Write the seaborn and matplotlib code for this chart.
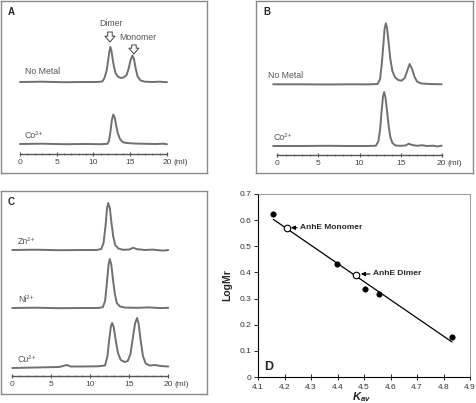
import numpy as np
import pandas as pd
import seaborn as sns
import matplotlib.pyplot as plt
from matplotlib.ticker import MultipleLocator

# ---- data (elution volume in ml, signal in arbitrary units) ----
# Panel A
a_nometal_ml = [0, 3, 6, 9, 10.5, 11.2, 11.5, 11.8, 12.0, 12.15, 12.3, 12.45, 12.6, 12.8, 13.0, 13.3, 13.7,
                14.1, 14.5, 14.8, 15.05, 15.3, 15.5, 15.75, 16.0, 16.4, 17, 18, 19, 20]
a_nometal_sig = [72, 72.3, 71.8, 72, 72, 72.5, 76, 84, 94, 102, 107, 103, 95, 87, 81, 77.5, 76,
                 76.5, 79, 86, 94, 98.5, 95, 85, 77.5, 73.5, 72.3, 72, 72.3, 71.8]
a_co_ml = [0, 3, 6, 9, 11, 11.9, 12.1, 12.3, 12.5, 12.7, 12.9, 13.1, 13.3, 13.6, 14.0, 14.5, 15.5, 17, 18.5, 19.5, 20]
a_co_sig = [10, 10.3, 9.8, 10, 9.8, 10.2, 13, 22, 34, 39.5, 36, 28, 21, 15, 11.8, 11, 10.5, 10.2, 10, 10.3, 9.8]

# Panel B
b_nometal_ml = [-0.5, 3, 6, 9, 11, 12.2, 12.5, 12.7, 12.9, 13.05, 13.2, 13.35, 13.55, 13.75, 14.0, 14.3, 14.7,
                15.1, 15.5, 15.8, 16.1, 16.4, 16.7, 17.0, 17.5, 18.5, 19.5, 20]
b_nometal_sig = [70.7, 70.7, 70.5, 70.7, 70.6, 71, 76, 90, 110, 126, 131.7, 127, 112, 96, 84, 78, 75,
                 74.3, 77, 84, 91, 86, 78, 73.5, 71.5, 71, 70.8, 70.7]
b_co_ml = [-0.5, 3, 6, 9, 11, 12.0, 12.3, 12.5, 12.7, 12.85, 13.0, 13.15, 13.35, 13.55, 13.75, 14.0, 14.4,
           15, 15.6, 16.0, 16.4, 17, 17.6, 18.2, 19, 19.5, 20]
b_co_sig = [9, 9, 9.2, 9, 9, 9.3, 14, 25, 45, 58, 63, 58, 44, 29, 18, 12, 9.5,
            9.2, 9.5, 11.3, 10, 9.2, 9.8, 9, 9.3, 8.6, 9.4]

# Panel C
c_zn_ml = [0, 3, 6, 9, 10.8, 11.4, 11.7, 11.95, 12.15, 12.3, 12.5, 12.7, 12.95, 13.2, 13.6, 14.2, 15.0, 15.5,
           16.0, 17, 18, 19, 19.5, 20]
c_zn_sig = [126, 126.3, 125.8, 126, 126, 127, 133, 150, 168, 173, 168, 154, 139, 131, 127.5, 126.2, 126.5, 128.2,
            126.8, 126, 126.4, 125.6, 125.5, 126]
c_ni_ml = [0, 3, 6, 9, 11, 11.6, 11.9, 12.15, 12.35, 12.5, 12.7, 12.9, 13.15, 13.4, 13.8, 14.5, 16, 17.5, 19, 20]
c_ni_sig = [68, 68.3, 67.8, 68, 68, 68.8, 75, 95, 112, 117, 111, 97, 82, 73, 69.5, 68.4, 68.2, 68.6, 67.9, 68.2]
c_cu_ml = [0, 3, 6, 7, 7.5, 9, 11, 11.9, 12.2, 12.45, 12.65, 12.8, 13.0, 13.25, 13.55, 13.9, 14.4, 14.8, 15.15,
           15.45, 15.75, 16.0, 16.2, 16.45, 16.75, 17.1, 17.6, 18.3, 19, 20]
c_cu_sig = [8, 8.5, 9, 11, 9.5, 9.5, 9.7, 10.5, 20, 38, 50, 53, 49, 36, 23, 16, 14, 15, 22,
            38, 53, 58, 52, 36, 20, 12.5, 10.5, 11, 10, 9.5]

# Panel D
std_kav = [4.158, 4.398, 4.503, 4.555, 4.832]
std_logmr = [0.622, 0.431, 0.337, 0.318, 0.154]
anhe_kav = [4.209, 4.468]
anhe_logmr = [0.571, 0.391]

sns.set_style("white")
plt.rcParams['font.family'] = ['Liberation Sans', 'DejaVu Sans']
plt.rcParams['mathtext.fontset'] = 'custom'
plt.rcParams['mathtext.it'] = 'Liberation Sans:italic:bold'
plt.rcParams['mathtext.rm'] = 'Liberation Sans:bold'

W, H = 477, 403
fig = plt.figure(figsize=(W / 100, H / 100), dpi=100)

TRACE = '#707070'
LBL = '#555555'


def frac(l, t, r, b):
    return [l / W, 1 - b / H, (r - l) / W, (b - t) / H]


def chrom_panel(box, axis_px, x0, x1, letter, letter_xy):
    outer = fig.add_axes(frac(*box))
    outer.set_xticks([])
    outer.set_yticks([])
    for s in outer.spines.values():
        s.set_color('#8a8a8a')
        s.set_linewidth(1.0)
    inner = fig.add_axes(frac(x0, box[1] + 1, x1, axis_px))
    inner.patch.set_alpha(0)
    inner.set_xlim(0, 20)
    inner.set_ylim(0, axis_px - box[1] - 1)
    for k in ['left', 'right', 'top']:
        inner.spines[k].set_visible(False)
    inner.spines['bottom'].set_color('#555555')
    inner.spines['bottom'].set_linewidth(1.0)
    inner.set_xticks([0, 5, 10, 15, 20])
    inner.xaxis.set_minor_locator(MultipleLocator(1))
    inner.set_yticks([])
    inner.tick_params(axis='x', which='major', direction='inout', length=3, width=0.8, color='#555555',
                      labelsize=6, labelcolor='#444444', pad=2, bottom=True)
    inner.tick_params(axis='x', which='minor', direction='inout', length=2, width=0.6, color='#666666', bottom=True)
    inner.annotate('(ml)', xy=(20, 0), xytext=(4.5, -3.5), textcoords='offset points',
                   ha='left', va='top', fontsize=6, color='#444444', annotation_clip=False)
    fig.text(letter_xy[0] / W, 1 - letter_xy[1] / H, letter, fontsize=7, fontweight='bold',
             ha='center', va='center')
    return inner


def trace(ax, x, y):
    sns.lineplot(x=x, y=y, ax=ax, color=TRACE, lw=1.4, clip_on=False)


def label(ax, x, y, s):
    ax.text(x, y, s, fontsize=6.3, color=LBL, ha='left', va='center')


# Panel A
axa = chrom_panel((1, 1, 207, 173), 154, 20, 167, 'A', (11.5, 12))
trace(axa, a_nometal_ml, a_nometal_sig)
trace(axa, a_co_ml, a_co_sig)
label(axa, 0.68, 83, 'No Metal')
label(axa, 0.68, 19, 'Co²⁺')
axa.text(12.4, 130, 'Dimer', fontsize=6.3, color=LBL, ha='center', va='center')
axa.text(13.5, 117, 'Monomer', fontsize=6.3, color=LBL, ha='left', va='center')
arrow_kw = dict(arrowstyle='simple,head_length=0.7,head_width=1.2,tail_width=0.55',
                fc='white', ec='#444444', lw=0.7, mutation_scale=6, shrinkA=0, shrinkB=0)
axa.annotate('', xy=(12.24, 112), xytext=(12.24, 122), arrowprops=arrow_kw)
axa.annotate('', xy=(15.5, 100), xytext=(15.5, 109), arrowprops=arrow_kw)

# Panel B
axb = chrom_panel((256, 1, 473, 173), 155, 277.3, 441.7, 'B', (266.5, 12))
trace(axb, b_nometal_ml, b_nometal_sig)
trace(axb, b_co_ml, b_co_sig)
label(axb, -1.13, 80, 'No Metal')
label(axb, -0.52, 17, 'Co²⁺')

# Panel C
axc = chrom_panel((1, 191, 207, 394), 376, 12.3, 168.3, 'C', (11.5, 202))
trace(axc, c_zn_ml, c_zn_sig)
trace(axc, c_ni_ml, c_ni_sig)
trace(axc, c_cu_ml, c_cu_sig)
label(axc, 0.73, 135, 'Zn²⁺')
label(axc, 0.73, 77, 'Ni²⁺')
label(axc, 0.73, 16, 'Cu²⁺')

# Panel D
axd = fig.add_axes(frac(258, 194, 470, 377))
sns.regplot(x=std_kav, y=std_logmr, ax=axd, ci=None, scatter=False, line_kws=dict(color='black', lw=0.9))
sns.scatterplot(x=std_kav, y=std_logmr, ax=axd, color='black', s=16, edgecolor='black', zorder=3)
sns.scatterplot(x=anhe_kav, y=anhe_logmr, ax=axd, color='white', s=22, edgecolor='black', linewidth=0.8, zorder=3)
axd.set_xlim(4.1, 4.9)
axd.set_ylim(0, 0.7)
axd.set_xticks(np.round(np.arange(4.1, 4.95, 0.1), 1))
axd.set_yticks(np.round(np.arange(0, 0.75, 0.1), 1))
axd.set_xticklabels([f'{v:g}' for v in axd.get_xticks()])
axd.set_yticklabels([f'{v:g}' for v in axd.get_yticks()])
axd.tick_params(axis='x', direction='inout', length=4, width=0.7, labelsize=6, labelcolor='#333333', pad=3,
                bottom=True)
axd.tick_params(axis='y', direction='out', length=3, width=0.7, labelsize=6, labelcolor='#333333', pad=2,
                left=True)
for k in ['left', 'bottom']:
    axd.spines[k].set_color('black')
    axd.spines[k].set_linewidth(0.8)
for k in ['top', 'right']:
    axd.spines[k].set_color('#888888')
    axd.spines[k].set_linewidth(0.6)
axd.set_xlabel('$K_{av}$', fontsize=8)
axd.xaxis.set_label_coords(0.49, -0.112)
axd.xaxis.label.set_va('center')
axd.set_ylabel('LogMr', fontsize=7.5, fontweight='bold', labelpad=5)
axd.annotate('AnhE Monomer', xy=(4.224, 0.571), xytext=(4.26, 0.571), fontsize=6, fontweight='bold',
             va='center', ha='left',
             arrowprops=dict(arrowstyle='-|>', color='black', lw=0.8, mutation_scale=6, shrinkA=0, shrinkB=0))
axd.annotate('AnhE Dimer', xy=(4.488, 0.394), xytext=(4.535, 0.394), fontsize=6, fontweight='bold',
             va='center', ha='left',
             arrowprops=dict(arrowstyle='-|>', color='black', lw=0.8, mutation_scale=6, shrinkA=0, shrinkB=0))
axd.text(4.139, 0.04, 'D', fontsize=9, fontweight='bold', ha='center', va='center')

fig.savefig('out.png', dpi=100)
